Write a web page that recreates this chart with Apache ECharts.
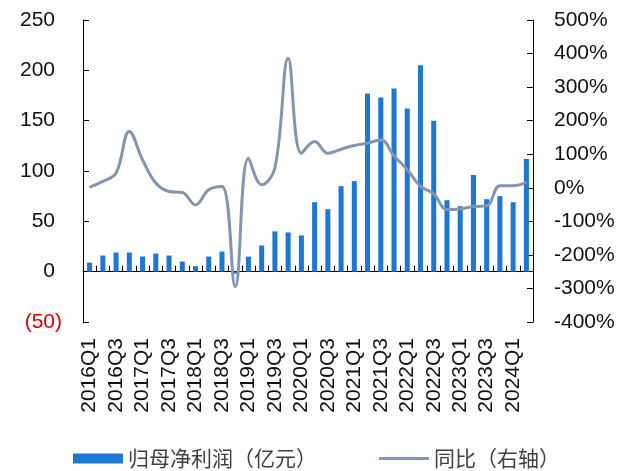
<!DOCTYPE html>
<html>
<head>
<meta charset="utf-8">
<script src="https://cdn.jsdelivr.net/npm/echarts@6/dist/echarts.min.js"></script>
<style>html,body{margin:0;padding:0;background:#fff;}#c{width:633px;height:471px;}</style>
</head>
<body>
<div id="c"></div>
<script>
const categories = ['2016Q1','2016Q2','2016Q3','2016Q4','2017Q1','2017Q2','2017Q3','2017Q4',
  '2018Q1','2018Q2','2018Q3','2018Q4','2019Q1','2019Q2','2019Q3','2019Q4',
  '2020Q1','2020Q2','2020Q3','2020Q4','2021Q1','2021Q2','2021Q3','2021Q4',
  '2022Q1','2022Q2','2022Q3','2022Q4','2023Q1','2023Q2','2023Q3','2023Q4',
  '2024Q1','2024Q2'];
const profit = [9,16,19,19,15,18,16,10,5.5,15,20,-2,15,26,40,39,
  36,69,62,85,90,177,173,182,162,205,150,71,65,96,72,75,69,112];
const yoy = [2,19,44,168,83,14,-11,-14,-51,-6,4,-295,88,9,59,386,
  103,138,103,115,126,133,143,95,54,4,-18,-65,-63,-56,-54,6,6,16];
const leftTicks = {min:-50, max:250, interval:50};
const rightTicks = {min:-400, max:500, interval:100};
const seriesNames = ['归母净利润（亿元）','同比（右轴）'];

const FONT = 'Liberation Sans, Arial, sans-serif';
const CJK = 'Noto Sans CJK SC, sans-serif';
const LINE_ICON = 'path://M0,0 L0.01,0 L0.01,0.01 L0,0.01 Z M0,3.5 L54,3.5 L54,6.5 L0,6.5 Z M0,9.99 L0.01,9.99 L0.01,10 L0,10 Z';
const chart = echarts.init(document.getElementById('c'), null, {renderer:'canvas'});
chart.setOption({
  animation:false,
  backgroundColor:'#fff',
  grid:{left:83, right:100, top:20, bottom:149, containLabel:false},
  legend:{
    left:73, top:448, padding:0, itemWidth:50, itemHeight:10, itemGap:62,
    textStyle:{fontFamily:CJK, fontSize:21, color:'#404040'},
    data:[{name:seriesNames[0], icon:'rect'},{name:seriesNames[1], icon:LINE_ICON}]
  },
  xAxis:[{
    type:'category', data:categories, boundaryGap:true,
    axisLine:{onZero:true, onZeroAxisIndex:0, lineStyle:{color:'#000', width:1}},
    axisTick:{show:true, inside:true, length:6, interval:0, lineStyle:{color:'#000'}},
    axisLabel:{show:false}, splitLine:{show:false}
  },{
    type:'category', data:categories, position:'bottom', boundaryGap:true,
    axisLine:{show:false, onZero:false}, axisTick:{show:false},
    axisLabel:{show:true, interval:1, rotate:90, margin:16, fontFamily:FONT, fontSize:21, color:'#111'},
    splitLine:{show:false}
  }],
  yAxis:[{
    type:'value', min:leftTicks.min, max:leftTicks.max, interval:leftTicks.interval,
    axisLine:{show:true, lineStyle:{color:'#000'}},
    axisTick:{show:true, inside:true, length:6, lineStyle:{color:'#000'}},
    splitLine:{show:false},
    axisLabel:{margin:21, fontFamily:FONT, fontSize:21,
      formatter:function(v){ return v<0 ? '{n|('+(-v)+')}' : '{p|'+v+'}{h|)}'; },
      rich:{
        n:{color:'#e00000', fontFamily:FONT, fontSize:21},
        p:{color:'#111', fontFamily:FONT, fontSize:21},
        h:{color:'rgba(0,0,0,0)', fontFamily:FONT, fontSize:21}
      }}
  },{
    type:'value', position:'right', min:rightTicks.min, max:rightTicks.max, interval:rightTicks.interval,
    axisLine:{show:true, lineStyle:{color:'#000'}},
    axisTick:{show:true, inside:true, length:6, lineStyle:{color:'#000'}},
    splitLine:{show:false},
    axisLabel:{margin:21, fontFamily:FONT, fontSize:21, color:'#111', formatter:function(v){return v+'%';}}
  }],
  series:[{
    name:seriesNames[0], type:'bar', data:profit, xAxisIndex:0, yAxisIndex:0,
    barWidth:'38%', itemStyle:{color:'#1e77d2'}
  },{
    name:seriesNames[1], type:'line', data:yoy, xAxisIndex:0, yAxisIndex:1,
    smooth:0.4, symbol:'none', showSymbol:false,
    lineStyle:{color:'#8395b0', width:3}, itemStyle:{color:'#8395b0'}
  }]
});
</script>
</body>
</html>
